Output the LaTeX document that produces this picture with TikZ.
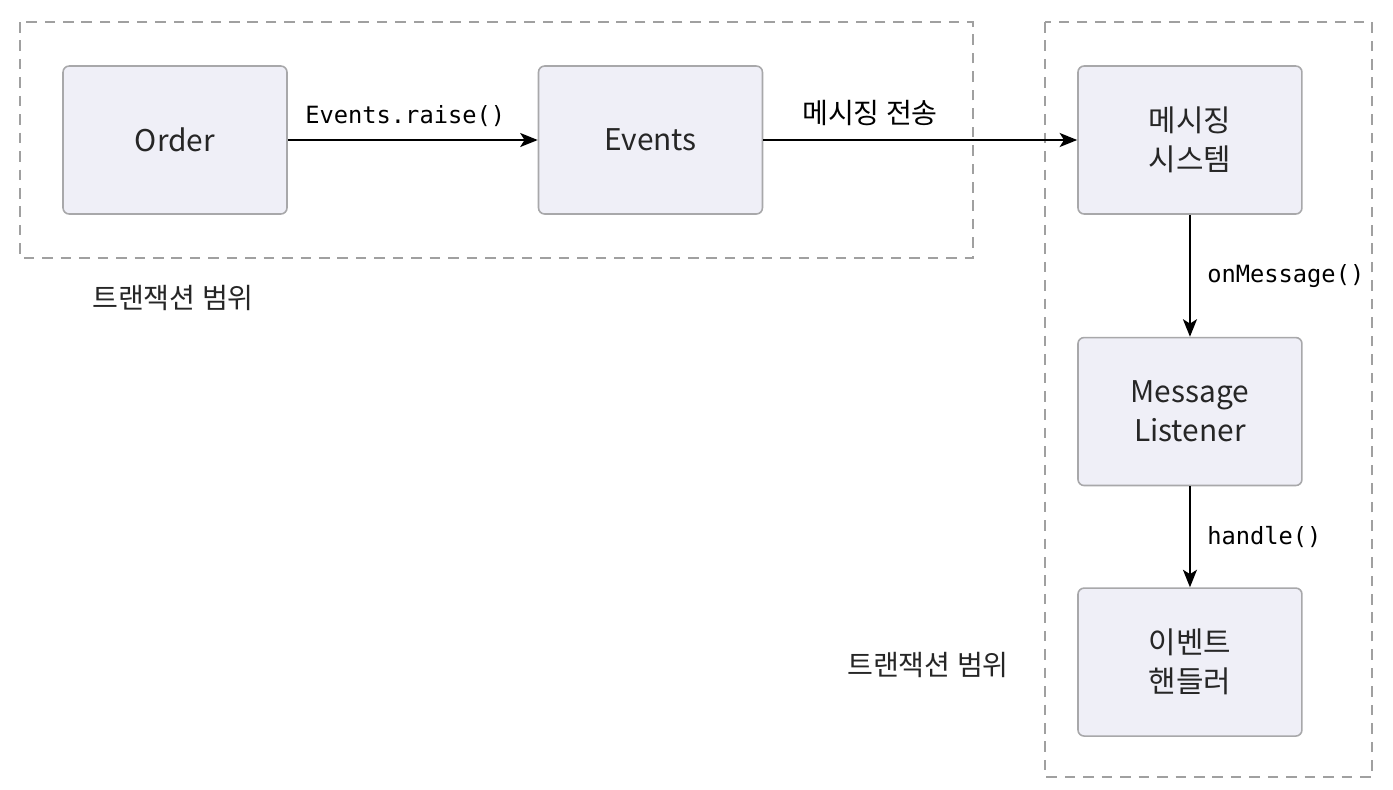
\documentclass[tikz,border=0pt]{standalone}
\usepackage{fontspec}
\setmainfont{Noto Sans CJK KR}
\setmonofont{DejaVu Sans Mono}
\usetikzlibrary{arrows.meta, positioning}
\definecolor{boxfill}{RGB}{239,239,247}
\definecolor{boxline}{RGB}{168,168,170}
\definecolor{scopeline}{RGB}{160,160,160}

\begin{document}
\begin{tikzpicture}[
x=0.02cm, y=-0.02cm,
box/.style={draw=boxline, fill=boxfill, line width=0.9pt, rounded corners=3.5pt, align=center,
  minimum width=4.48cm, minimum height=2.96cm, font=\fontsize{17}{22}\selectfont, text=black!85},
scopebox/.style={draw=scopeline, line width=1.6pt, dash pattern=on 6pt off 4.5pt},
arrow/.style={-{Stealth[length=10pt, width=8pt, inset=2.5pt]}, line width=1pt},
codelabel/.style={font=\ttfamily\fontsize{13.5}{16}\selectfont},
scopelabel/.style={font=\fontsize{16}{20}\selectfont, text=black!85}
]
\useasboundingbox (0,0) rectangle (1393,789);

% transaction scopes
\draw[scopebox] (20,22) rectangle (973,258);
\draw[scopebox] (1045,22) rectangle (1372,777);

\node[box] (order) at (175,140) {Order};
\node[box, right=5cm of order] (events) {Events};
\node[box, right=6.28cm of events] (msgsys) {메시징\\시스템};
\node[box, below=2.44cm of msgsys] (listener) {Message\\Listener};
\node[box, below=2.02cm of listener] (handler) {이벤트\\핸들러};

\node[scopelabel] (scope1) at (173,298) {트랜잭션 범위};
\node[scopelabel] (scope2) at (928,665) {트랜잭션 범위};

\draw[arrow] (order) -- node[codelabel, above=4pt, pos=0.47] {Events.raise()} (events);
\draw[arrow] (events) -- node[scopelabel, above=4pt, pos=0.34, text=black] {메시징 전송} (msgsys);
\draw[arrow] (msgsys) -- node[codelabel, right=6pt] {onMessage()} (listener);
\draw[arrow] (listener) -- node[codelabel, right=6pt] {handle()} (handler);

\end{tikzpicture}
\end{document}
